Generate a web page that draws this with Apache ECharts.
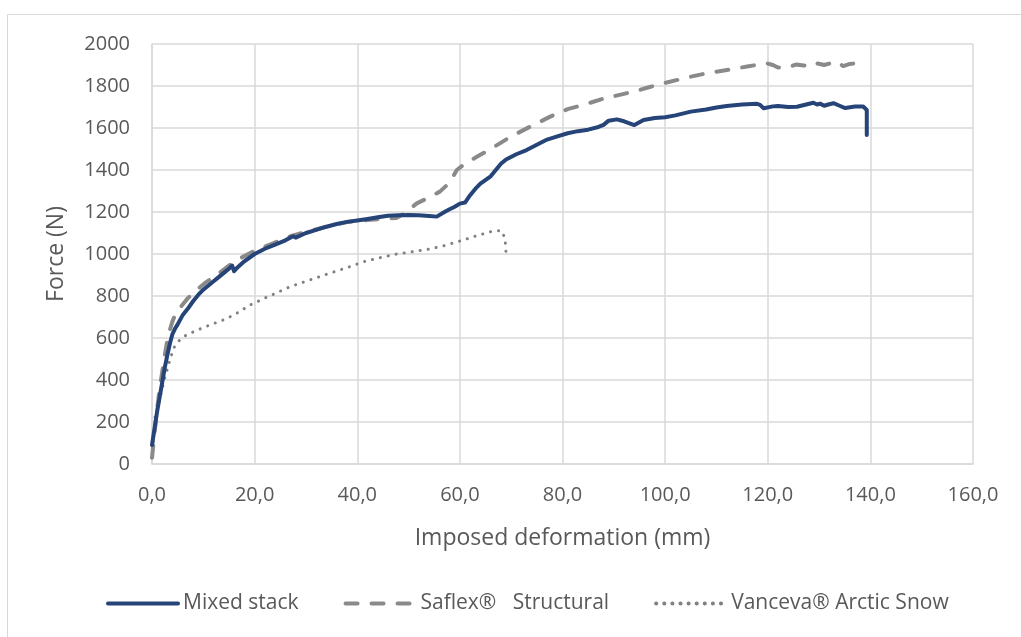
<!DOCTYPE html>
<html>
<head>
<meta charset="utf-8">
<script src="https://cdn.jsdelivr.net/npm/echarts@6/dist/echarts.min.js"></script>
<style>
html,body{margin:0;padding:0;background:#fff;}
#chart{width:1021px;height:637px;}
</style>
</head>
<body>
<div id="chart"></div>
<script>
// ---- Data ----
const seriesNames = ['Mixed stack', 'Saflex®   Structural', 'Vanceva® Arctic Snow'];

const mixedX = [0,0.5,1,1.5,2,2.5,3,3.5,4,4.5,5,6,7,8,9,10,11,12,13,14,15,15.6,16,16.6,18,20,22,24,26,27.5,28,30,32,34,36,38,40,42,44,46,48,50,52,54,55.5,57,58,59,60,61,62,63,64,66,68,69,71,73,75,77,79,81,83,85,87,88,89,90.6,92,94,95.8,98,100,102,105,108,110,112,115,117.9,118.5,119.2,121,122,124,125.7,127.5,128.9,129.6,130.2,131,131.8,132.8,134,135.1,137,138.6,139.3,139.3];
const mixedY = [90,170,250,320,390,460,520,575,620,645,665,710,740,775,805,830,850,870,890,910,930,945,918,935,965,1000,1025,1045,1065,1085,1078,1100,1115,1130,1143,1153,1160,1167,1175,1182,1185,1186,1184,1181,1178,1200,1213,1225,1240,1245,1280,1310,1335,1370,1430,1450,1475,1495,1520,1545,1560,1575,1585,1592,1605,1615,1635,1641,1632,1614,1638,1648,1651,1660,1678,1688,1698,1705,1712,1715,1710,1694,1703,1705,1700,1701,1712,1720,1712,1716,1706,1712,1718,1706,1695,1702,1702,1686,1567];

const saflexX = [0,0.5,1,1.5,2,2.5,3,3.5,4,4.5,5.5,7,8.7,10.5,12.6,15,17.2,20,23.6,27,30,34,38,42,45,47.7,49,51.6,54,56.1,58,59.4,61,63.3,66,70,74,77.6,81,84.1,88,93.8,97,99.7,104.9,108,112.7,116,119.8,121,122,124,125.5,127,128.9,129.6,131,133.4,134.7,136,138.6,139.3];
const saflexY = [30,150,260,360,440,520,590,640,680,710,745,790,829,865,900,945,980,1015,1051,1085,1105,1130,1152,1162,1168,1172,1190,1241,1270,1297,1340,1400,1430,1463,1500,1560,1610,1654,1690,1710,1740,1773,1795,1813,1844,1860,1879,1893,1908,1900,1888,1889,1902,1898,1895,1908,1900,1916,1895,1905,1911,1905];

const vancevaX = [0,0.6,1.6,2.5,3.5,4.2,4.8,6,7.4,10,13.9,16,19.1,22,26.9,30,33,36.6,38,41.2,44,47.7,51,54.2,57,60.7,63,66.5,68.1,68.8,69];
const vancevaY = [30,225,320,410,495,550,575,605,622,650,686,710,757,790,844,870,895,924,935,963,980,1000,1012,1024,1040,1067,1085,1110,1111,1075,1000];

const xTickValues = [0,20,40,60,80,100,120,140,160];
const yTickValues = [0,200,400,600,800,1000,1200,1400,1600,1800,2000];
const xAxisTitle = 'Imposed deformation (mm)';
const yAxisTitle = 'Force (N)';

function pairs(xs, ys){ return xs.map((x,i)=>[x, ys[i]]); }

const FONT = '"Open Sans", sans-serif';
const TXT = '#595959';
const GRID = '#d9d9d9';

const chart = echarts.init(document.getElementById('chart'), null, {renderer:'canvas'});
chart.setOption({
  animation:false,
  backgroundColor:'#ffffff',
  textStyle:{fontFamily:FONT, color:TXT},
  graphic:[{
    type:'rect', silent:true, z:-10,
    shape:{x:7.5, y:14.5, width:1100, height:700},
    style:{fill:'none', stroke:'#d9d9d9', lineWidth:1}
  }],
  grid:{left:152, right:48, top:44, bottom:173, containLabel:false},
  xAxis:{
    type:'value', min:xTickValues[0], max:xTickValues[xTickValues.length-1], interval:20,
    name:xAxisTitle, nameLocation:'middle', nameGap:63,
    nameTextStyle:{fontFamily:FONT, fontSize:23, color:TXT},
    axisLine:{show:true, lineStyle:{color:GRID, width:1.5}},
    axisTick:{show:false},
    axisLabel:{fontFamily:FONT, fontSize:20, color:TXT, margin:21,
      formatter:v=>v.toFixed(1).replace('.',',')},
    splitLine:{show:true, lineStyle:{color:GRID, width:1.5}}
  },
  yAxis:{
    type:'value', min:yTickValues[0], max:yTickValues[yTickValues.length-1], interval:200,
    name:yAxisTitle, nameLocation:'middle', nameGap:84, nameRotate:90,
    nameTextStyle:{fontFamily:FONT, fontSize:23, color:TXT},
    axisLine:{show:true, lineStyle:{color:GRID, width:1.5}},
    axisTick:{show:false},
    axisLabel:{fontFamily:FONT, fontSize:20, color:TXT, margin:22, formatter:v=>String(v)},
    splitLine:{show:true, lineStyle:{color:GRID, width:1.5}}
  },
  legend:{
    bottom:18, left:101, itemWidth:70, itemHeight:14, itemGap:45,
    textStyle:{fontFamily:FONT, fontSize:21, color:TXT},
    itemStyle:{opacity:0, borderWidth:0},
    lineStyle:{width:4},
    data:seriesNames
  },
  series:[
    {name:seriesNames[0], type:'line', data:pairs(mixedX, mixedY), symbol:'none', showSymbol:false, z:5,
      lineStyle:{color:'#264478', width:4, cap:'round', join:'round'}, itemStyle:{color:'#264478'}},
    {name:seriesNames[1], type:'line', data:pairs(saflexX, saflexY), symbol:'none', showSymbol:false, z:4,
      lineStyle:{color:'#8a8a8a', width:4, type:[12,14], cap:'round', join:'round'}, itemStyle:{color:'#8a8a8a'}},
    {name:seriesNames[2], type:'line', data:pairs(vancevaX, vancevaY), symbol:'none', showSymbol:false, z:3,
      lineStyle:{color:'#808080', width:3, type:[0.1,8], cap:'round', join:'round'}, itemStyle:{color:'#808080'}}
  ]
});
</script>
</body>
</html>
